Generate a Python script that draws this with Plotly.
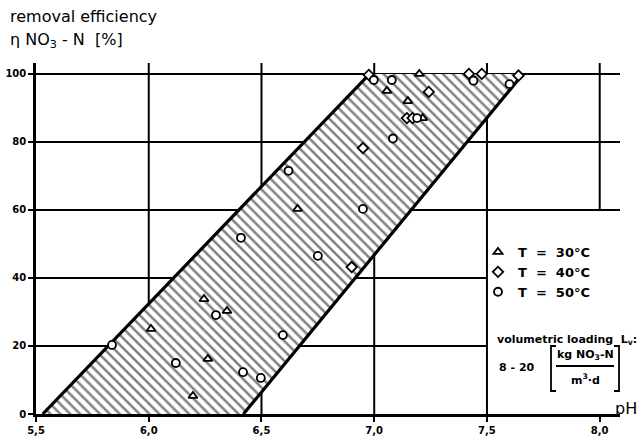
import plotly.graph_objects as go

# hatched band (pH, efficiency)
band_ph = [5.53, 6.42, 7.66, 6.98]
band_eff = [0, 0, 100, 100]

# measured points
t30_ph = [6.245, 6.347, 6.262, 6.196, 7.20, 7.056, 7.149, 7.215, 6.66, 6.01]
t30_eff = [33.8, 30.3, 16.2, 5.3, 100.0, 95.0, 92.0, 87.0, 60.3, 25.0]

t40_ph = [6.976, 7.242, 7.145, 7.17, 6.95, 6.90, 7.42, 7.477, 7.64]
t40_eff = [99.7, 94.7, 87.0, 87.0, 78.2, 43.2, 100.0, 100.0, 99.5]

t50_ph = [6.998, 7.078, 7.19, 7.083, 6.62, 6.95, 6.75, 6.409, 6.298, 5.837,
          6.12, 6.418, 6.497, 6.595, 7.44, 7.60]
t50_eff = [98.2, 98.2, 87.0, 81.0, 71.5, 60.3, 46.5, 51.8, 29.1, 20.3,
           15.0, 12.3, 10.6, 23.2, 98.0, 97.0]

x_ticks = [5.5, 6.0, 6.5, 7.0, 7.5, 8.0]
x_ticktext = ["<b>5,5</b>", "<b>6,0</b>", "<b>6,5</b>", "<b>7,0</b>", "<b>7,5</b>", "<b>8,0</b>"]
y_ticks = [0, 20, 40, 60, 80, 100]
y_ticktext = ["<b>0</b>", "<b>20</b>", "<b>40</b>", "<b>60</b>", "<b>80</b>", "<b>100</b>"]

X_MAX = 8.09
Y_MAX = 103.2
L, R, T, B = 36, 21, 63, 22
W, H = 641, 436
PW, PH = W - L - R, H - T - B


def px(x, y):
    return (x - L) / PW, (H - B - y) / PH


fig = go.Figure()

fig.add_trace(go.Scatter(x=band_ph + [band_ph[0]], y=band_eff + [band_eff[0]],
                         fill="toself", mode="lines", line=dict(width=0),
                         fillcolor="white",
                         fillpattern=dict(shape="\\", fgcolor="black", bgcolor="white",
                                          size=7, solidity=0.36),
                         showlegend=False, hoverinfo="skip"))
fig.add_trace(go.Scatter(x=[band_ph[0], band_ph[3]], y=[band_eff[0], band_eff[3]],
                         mode="lines", line=dict(color="black", width=3.2),
                         showlegend=False, hoverinfo="skip"))
fig.add_trace(go.Scatter(x=[band_ph[1], band_ph[2]], y=[band_eff[1], band_eff[2]],
                         mode="lines", line=dict(color="black", width=3.2),
                         showlegend=False, hoverinfo="skip"))

# grid lines (partial, as in the original drawing)
gl = dict(color="black", width=2)
for v in [6.0, 6.5, 7.0, 7.5]:
    fig.add_shape(type="line", x0=v, x1=v, y0=0, y1=Y_MAX, line=gl, layer="below")
fig.add_shape(type="line", x0=8.0, x1=8.0, y0=60, y1=Y_MAX, line=gl, layer="below")
for h in [60, 80, 100]:
    fig.add_shape(type="line", x0=5.5, x1=X_MAX, y0=h, y1=h, line=gl, layer="below")
for h in [20, 40]:
    fig.add_shape(type="line", x0=5.5, x1=7.5, y0=h, y1=h, line=gl, layer="below")

mk = dict(color="white", size=8, line=dict(color="black", width=1.8))
fig.add_trace(go.Scatter(x=t30_ph, y=t30_eff, mode="markers", name="<b>T  =  30°C</b>",
                         marker=dict(symbol="triangle-up", **mk)))
fig.add_trace(go.Scatter(x=t40_ph, y=t40_eff, mode="markers", name="<b>T  =  40°C</b>",
                         marker=dict(symbol="diamond", **mk)))
fig.add_trace(go.Scatter(x=t50_ph, y=t50_eff, mode="markers", name="<b>T  =  50°C</b>",
                         marker=dict(symbol="circle", **mk)))

font = "DejaVu Sans, sans-serif"
ann = []
x0, y0 = px(8, 17)
ann.append(dict(text="removal efficiency", x=x0, y=y0, xanchor="left", yanchor="middle",
                font=dict(size=16)))
x0, y0 = px(8, 40)
ann.append(dict(text="η NO<sub>3</sub> - N  [%]", x=x0, y=y0, xanchor="left", yanchor="middle",
                font=dict(size=16)))
x0, y0 = px(639, 408)
ann.append(dict(text="pH", x=x0, y=y0, xanchor="right", yanchor="middle", font=dict(size=16)))
x0, y0 = px(495, 340)
ann.append(dict(text="<b>volumetric loading  L<sub>v</sub>:</b>", x=x0, y=y0, xanchor="left",
                yanchor="middle", font=dict(size=11)))
x0, y0 = px(497, 367)
ann.append(dict(text="<b>8 - 20</b>", x=x0, y=y0, xanchor="left", yanchor="middle", font=dict(size=11)))
x0, y0 = px(585, 355)
ann.append(dict(text="<b>kg NO<sub>3</sub>-N</b>", x=x0, y=y0, xanchor="center", yanchor="middle",
                font=dict(size=11)))
x0, y0 = px(585, 379)
ann.append(dict(text="<b>m<sup>3</sup>·d</b>", x=x0, y=y0, xanchor="center", yanchor="middle",
                font=dict(size=11)))
for a in ann:
    a.update(xref="paper", yref="paper", showarrow=False)
    a["font"].update(family=font, color="black")

shapes = []
a, b = px(556, 366)
c, d = px(614, 366)
shapes.append(dict(type="line", x0=a, y0=b, x1=c, y1=d))
# brackets
lx, top = px(551, 346)
lx2, bot = px(556, 391)
shapes.append(dict(type="path", path=f"M {lx2},{top} L {lx},{top} L {lx},{bot} L {lx2},{bot}"))
rx, _ = px(619, 346)
rx2, _ = px(614, 346)
shapes.append(dict(type="path", path=f"M {rx2},{top} L {rx},{top} L {rx},{bot} L {rx2},{bot}"))
for s in shapes:
    s.update(xref="paper", yref="paper", line=dict(color="black", width=1.8))
    fig.add_shape(**s)

lx, ly = px(478, 237)
fig.update_layout(
    width=W, height=H,
    margin=dict(l=L, r=R, t=T, b=B, autoexpand=False),
    plot_bgcolor="white", paper_bgcolor="white",
    font=dict(family=font, color="black"),
    annotations=ann,
    legend=dict(x=lx, y=ly, xanchor="left", yanchor="top", bgcolor="rgba(0,0,0,0)",
                font=dict(size=13, family=font), itemwidth=30, tracegroupgap=0),
    xaxis=dict(range=[5.5, X_MAX], showgrid=False, zeroline=False, showline=True,
               linecolor="black", linewidth=2.5, ticks="outside", ticklen=5, tickwidth=2,
               tickcolor="black", tickvals=x_ticks, ticktext=x_ticktext, automargin=False,
               tickfont=dict(size=10, family=font), ticklabelstandoff=0),
    yaxis=dict(range=[0, Y_MAX], showgrid=False, zeroline=False, showline=True,
               linecolor="black", linewidth=2.5, ticks="outside", ticklen=5, tickwidth=2,
               tickcolor="black", tickvals=y_ticks, ticktext=y_ticktext, automargin=False,
               tickfont=dict(size=10, family=font)),
)

fig.write_html("out.html", config={"displayModeBar": False},
               post_script="document.body.style.margin='0';")
